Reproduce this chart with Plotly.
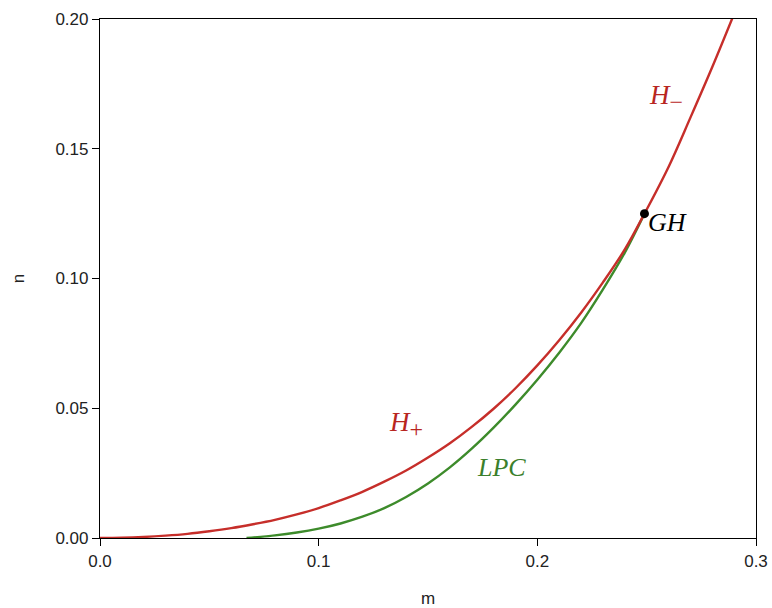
import plotly.graph_objects as go

# H curve (H+ below GH, H- above GH)
h_m = [0, 0.01, 0.02, 0.03, 0.04, 0.05, 0.06, 0.07, 0.08, 0.09, 0.10, 0.11, 0.12, 0.13, 0.14,
       0.15, 0.16, 0.17, 0.18, 0.19, 0.20, 0.21, 0.22, 0.23, 0.24, 0.249, 0.26, 0.27, 0.28, 0.29]
h_n = [0, 0.0001, 0.0004, 0.0009, 0.0016, 0.0026, 0.0038, 0.0053, 0.0070, 0.0091, 0.0115,
       0.0145, 0.0178, 0.0217, 0.0260, 0.0310, 0.0365, 0.0428, 0.0498, 0.0577, 0.0665, 0.0762,
       0.0868, 0.0985, 0.1112, 0.1250, 0.1430, 0.1620, 0.1815, 0.2020]

# LPC curve
lpc_m = [0.067, 0.08, 0.09, 0.10, 0.11, 0.12, 0.13, 0.14, 0.15, 0.16, 0.17, 0.18, 0.19, 0.20,
         0.21, 0.22, 0.23, 0.24, 0.249]
lpc_n = [0, 0.0010, 0.0021, 0.0036, 0.0056, 0.0082, 0.0115, 0.0158, 0.0210, 0.0272, 0.0344,
         0.0425, 0.0514, 0.0610, 0.0714, 0.0828, 0.0958, 0.1100, 0.1250]

gh_m = [0.249]
gh_n = [0.125]

x_ticks = [0.0, 0.1, 0.2, 0.3]
y_ticks = [0.0, 0.05, 0.10, 0.15, 0.20]

RED = "#c62e2a"
GREEN = "#3d8b2b"

fig = go.Figure()
fig.add_trace(go.Scatter(x=lpc_m, y=lpc_n, mode="lines",
                         line=dict(color=GREEN, width=2.4, shape="spline", smoothing=1.0)))
fig.add_trace(go.Scatter(x=h_m, y=h_n, mode="lines",
                         line=dict(color=RED, width=2.4, shape="spline", smoothing=1.0)))
fig.add_trace(go.Scatter(x=gh_m, y=gh_n, mode="markers",
                         marker=dict(color="black", size=9)))

serif = "Liberation Serif"
fig.add_annotation(x=0.140, y=0.0439, text="<i>H</i><sub><span style='font-size:24px'>+</span></sub>",
                   showarrow=False, font=dict(family=serif, size=27, color="#b8261f"))
fig.add_annotation(x=0.1837, y=0.0273, text="<i>LPC</i>", showarrow=False,
                   font=dict(family=serif, size=26, color="#3b7f2c"))
fig.add_annotation(x=0.2588, y=0.1698, text="<i>H</i><sub><span style='font-size:24px'>−</span></sub>",
                   showarrow=False, font=dict(family=serif, size=27, color="#b8261f"))
fig.add_annotation(x=0.2597, y=0.1217, text="<i>GH</i>", showarrow=False,
                   font=dict(family=serif, size=26, color="black"))

axis_common = dict(showgrid=False, zeroline=False, showline=True, linecolor="black",
                   linewidth=1.2, mirror=True, ticks="outside", ticklen=7,
                   tickcolor="black", tickwidth=1.2, automargin=False,
                   tickfont=dict(family="Liberation Sans", size=17, color="#222"))

fig.update_xaxes(range=[0, 0.3], tickvals=x_ticks, ticktext=["0.0", "0.1", "0.2", "0.3"],
                 title=dict(text="m", font=dict(family="Liberation Sans", size=17, color="#222"), standoff=22),
                 **axis_common)
fig.update_yaxes(range=[0, 0.2], tickvals=y_ticks, ticktext=["0.00", "0.05", "0.10", "0.15", "0.20"],
                 title=dict(text="n", font=dict(family="Liberation Sans", size=17, color="#222"), standoff=26),
                 **axis_common)

fig.update_layout(width=772, height=608, showlegend=False,
                  plot_bgcolor="white", paper_bgcolor="white",
                  margin=dict(l=99.5, r=16, t=18.6, b=70))

fig.write_html("out.html")
